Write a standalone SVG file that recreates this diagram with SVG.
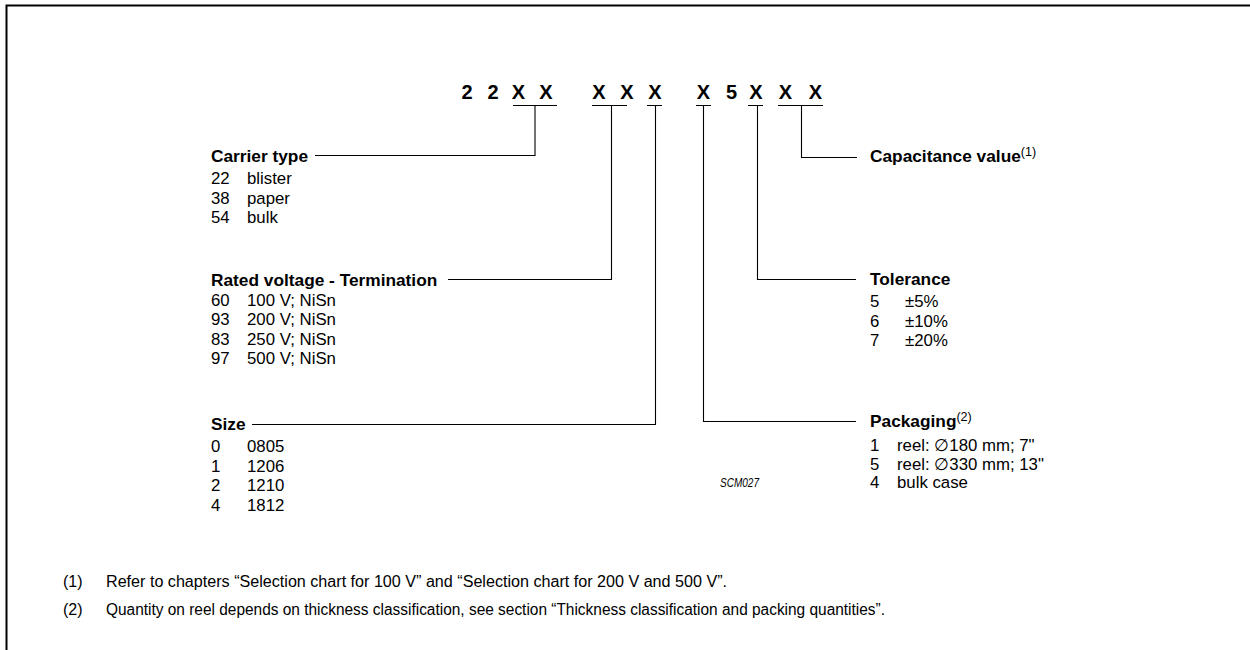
<svg xmlns="http://www.w3.org/2000/svg" width="1250" height="650" viewBox="0 0 1250 650">
<style>
text{font-family:"Liberation Sans",Arial,Helvetica,sans-serif;fill:#000}
.code{font-size:20px;font-weight:bold;text-anchor:middle}
.title{font-size:17.3px;font-weight:bold}
.item{font-size:16.8px}
.sup{font-size:12.5px;font-weight:normal}
.note{font-size:16px}
.ref{font-size:13px;font-style:italic}
.ln{fill:none;stroke:#000;stroke-width:1.1}
</style>
<rect width="1250" height="650" fill="#fff"/>
<path d="M6.5,650 V5.5 H1250" fill="none" stroke="#000" stroke-width="2"/>

<g id="code">
<text class="code" x="467" y="99">2</text>
<text class="code" x="493" y="99">2</text>
<text class="code" x="518.5" y="99">X</text>
<text class="code" x="546" y="99">X</text>
<text class="code" x="599" y="99">X</text>
<text class="code" x="627" y="99">X</text>
<text class="code" x="655" y="99">X</text>
<text class="code" x="703.5" y="99">X</text>
<text class="code" x="731.5" y="99">5</text>
<text class="code" x="756" y="99">X</text>
<text class="code" x="785.5" y="99">X</text>
<text class="code" x="815.5" y="99">X</text>
</g>

<g id="connectors">
<path class="ln" d="M513,105.5 H557 M592,105.5 H627 M647,105.5 H662 M696,105.5 H711 M748,105.5 H763 M778,105.5 H823"/>
<path class="ln" d="M535,105.5 V155.5 H315"/>
<path class="ln" d="M611.5,105.5 V279.5 H448"/>
<path class="ln" d="M655.5,105.5 V424.5 H252"/>
<path class="ln" d="M703.5,105.5 V421.5 H856"/>
<path class="ln" d="M757.5,105.5 V279.5 H856"/>
<path class="ln" d="M801.5,105.5 V157.5 H857"/>
</g>

<g id="carrier-type">
<text class="title" x="211" y="162">Carrier type</text>
<text class="item" x="211" y="184">22</text><text class="item" x="247" y="184">blister</text>
<text class="item" x="211" y="204">38</text><text class="item" x="247" y="204">paper</text>
<text class="item" x="211" y="223">54</text><text class="item" x="247" y="223">bulk</text>
</g>

<g id="rated-voltage">
<text class="title" x="211" y="286">Rated voltage - Termination</text>
<text class="item" x="211" y="306">60</text><text class="item" x="247" y="306">100 V; NiSn</text>
<text class="item" x="211" y="325">93</text><text class="item" x="247" y="325">200 V; NiSn</text>
<text class="item" x="211" y="345">83</text><text class="item" x="247" y="345">250 V; NiSn</text>
<text class="item" x="211" y="364">97</text><text class="item" x="247" y="364">500 V; NiSn</text>
</g>

<g id="size">
<text class="title" x="211" y="430">Size</text>
<text class="item" x="211" y="452">0</text><text class="item" x="247" y="452">0805</text>
<text class="item" x="211" y="472">1</text><text class="item" x="247" y="472">1206</text>
<text class="item" x="211" y="491">2</text><text class="item" x="247" y="491">1210</text>
<text class="item" x="211" y="511">4</text><text class="item" x="247" y="511">1812</text>
</g>

<g id="capacitance">
<text class="title" x="870" y="162">Capacitance value<tspan class="sup" dy="-6">(1)</tspan></text>
</g>

<g id="tolerance">
<text class="title" x="870" y="285">Tolerance</text>
<text class="item" x="870" y="306.5">5</text><text class="item" x="905" y="306.5">±5%</text>
<text class="item" x="870" y="326.5">6</text><text class="item" x="905" y="326.5">±10%</text>
<text class="item" x="870" y="346">7</text><text class="item" x="905" y="346">±20%</text>
</g>

<g id="packaging">
<text class="title" x="870" y="427">Packaging<tspan class="sup" dy="-6">(2)</tspan></text>
<text class="item" x="870" y="451">1</text><text class="item" x="897" y="451">reel: ∅180 mm; 7"</text>
<text class="item" x="870" y="470">5</text><text class="item" x="897" y="470">reel: ∅330 mm; 13"</text>
<text class="item" x="870" y="488">4</text><text class="item" x="897" y="488">bulk case</text>
</g>

<text class="ref" x="720" y="487" textLength="39" lengthAdjust="spacingAndGlyphs">SCM027</text>

<g id="footnotes">
<text class="note" x="63" y="587">(1)</text>
<text class="note" x="106" y="587" textLength="621" lengthAdjust="spacingAndGlyphs">Refer to chapters “Selection chart for 100 V” and “Selection chart for 200 V and 500 V”.</text>
<text class="note" x="63" y="615">(2)</text>
<text class="note" x="106" y="615" textLength="779" lengthAdjust="spacingAndGlyphs">Quantity on reel depends on thickness classification, see section “Thickness classification and packing quantities”.</text>
</g>
</svg>
